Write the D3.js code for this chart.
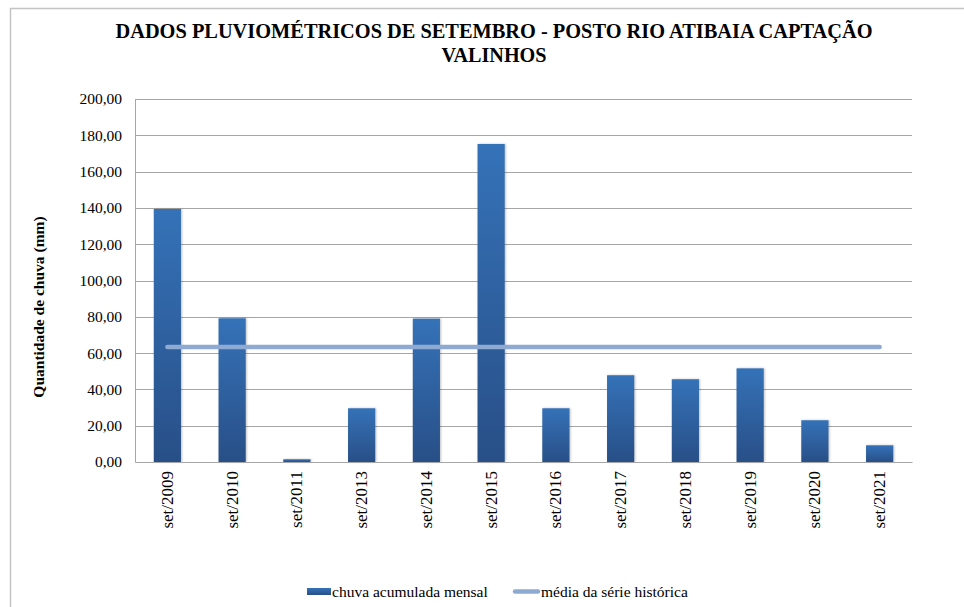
<!DOCTYPE html>
<html>
<head>
<meta charset="utf-8">
<script src="https://cdn.jsdelivr.net/npm/d3@7"></script>
<style>
  body { margin: 0; background: #fff; }
  svg text { font-family: "Liberation Serif", "Tinos", "Times New Roman", Times, serif; }
</style>
</head>
<body>
<script>
// chart data
var categories = ['set/2009','set/2010','set/2011','set/2013','set/2014','set/2015','set/2016','set/2017','set/2018','set/2019','set/2020','set/2021'];
var chuva = [139.4, 79.2, 1.5, 29.6, 79.0, 175.2, 29.6, 47.8, 45.6, 51.6, 23.0, 9.2];
var media = [63.4, 63.4, 63.4, 63.4, 63.4, 63.4, 63.4, 63.4, 63.4, 63.4, 63.4, 63.4];
var y_ticks = [0, 20, 40, 60, 80, 100, 120, 140, 160, 180, 200];
var title_lines = ['DADOS PLUVIOMÉTRICOS DE SETEMBRO - POSTO RIO ATIBAIA CAPTAÇÃO', 'VALINHOS'];
var y_title = 'Quantidade de chuva (mm)';
var legend_names = ['chuva acumulada mensal', 'média da série histórica'];

var width = 964, height = 607;
var left = 135, right = 912, top_y = 99, bottom_y = 462;

var svg = d3.select('body').append('svg').attr('width', width).attr('height', height);

// gradient for the bars
var defs = svg.append('defs');
var grad = defs.append('linearGradient').attr('id', 'bargrad').attr('x1', 0).attr('y1', 0).attr('x2', 0).attr('y2', 1);
grad.append('stop').attr('offset', '0%').attr('stop-color', '#3572b8');
grad.append('stop').attr('offset', '100%').attr('stop-color', '#284f87');

// outer frame
svg.append('path').attr('d', 'M10.5,' + height + ' V8.5 H' + width)
  .attr('fill', 'none').attr('stroke', '#c4c4c4').attr('stroke-width', 1.5);

// title (glyphs in the picture are a bit condensed, so squeeze to the measured width)
var title_widths = [757, 105];
svg.append('g').selectAll('text').data(title_lines).enter().append('text')
  .attr('x', 494).attr('y', (d, i) => 38 + i * 24)
  .attr('text-anchor', 'middle').attr('font-weight', 'bold').attr('font-size', '22px')
  .attr('textLength', (d, i) => title_widths[i]).attr('lengthAdjust', 'spacingAndGlyphs')
  .attr('fill', '#000').text(d => d);

var x_scale = d3.scaleBand().domain(categories).range([left, right]).paddingInner(0.58).paddingOuter(0.29);
var y_scale = d3.scaleLinear().domain([0, 200]).range([bottom_y, top_y]);

// gridlines
svg.append('g').selectAll('line').data(y_ticks.slice(1)).enter().append('line')
  .attr('x1', left).attr('x2', right)
  .attr('y1', d => Math.round(y_scale(d)) + 0.5).attr('y2', d => Math.round(y_scale(d)) + 0.5)
  .attr('stroke', '#a6a6a6').attr('stroke-width', 1);

// y axis
var y_axis = svg.append('g').attr('transform', 'translate(' + left + ',0)')
  .call(d3.axisLeft(y_scale).tickValues(y_ticks).tickSize(0).tickPadding(13)
    .tickFormat(d => d3.format('.2f')(d).replace('.', ',')));
y_axis.attr('font-family', null);
y_axis.select('.domain').attr('stroke', '#a6a6a6');
y_axis.selectAll('text').attr('font-size', '15.5px').attr('fill', '#000');

// y title
svg.append('text').attr('transform', 'translate(44,307) rotate(-90)')
  .attr('text-anchor', 'middle').attr('font-weight', 'bold').attr('font-size', '15.5px')
  .text(y_title);

// bars
svg.append('g').selectAll('rect').data(chuva).enter().append('rect')
  .attr('x', (d, i) => x_scale(categories[i]))
  .attr('y', d => y_scale(d))
  .attr('width', x_scale.bandwidth())
  .attr('height', d => bottom_y - y_scale(d))
  .attr('fill', 'url(#bargrad)')
  .style('filter', 'drop-shadow(1px 0px 1px rgba(0,0,0,0.25))');

// x axis
var x_axis = svg.append('g').attr('transform', 'translate(0,' + bottom_y + ')')
  .call(d3.axisBottom(x_scale).tickSize(0).tickPadding(0));
x_axis.attr('font-family', null);
x_axis.select('.domain').attr('stroke', '#a6a6a6');
x_axis.selectAll('text').attr('font-size', '17px').attr('fill', '#000')
  .attr('transform', 'rotate(-90)').attr('text-anchor', 'end')
  .attr('x', -9).attr('y', 0).attr('dy', '0.32em');

// média line
var line_gen = d3.line().x((d, i) => x_scale(categories[i]) + x_scale.bandwidth() / 2).y(d => y_scale(d));
svg.append('path').datum(media).attr('d', line_gen)
  .attr('fill', 'none').attr('stroke', '#8eaad2').attr('stroke-width', 4.5).attr('stroke-linecap', 'round');

// legend
var leg = svg.append('g');
leg.append('rect').attr('x', 307).attr('y', 588).attr('width', 24).attr('height', 7).attr('fill', 'url(#bargrad)');
leg.append('text').attr('x', 332).attr('y', 597).attr('font-size', '15.5px').text(legend_names[0]);
leg.append('line').attr('x1', 515).attr('x2', 538).attr('y1', 591.5).attr('y2', 591.5)
  .attr('stroke', '#8eaad2').attr('stroke-width', 4.5).attr('stroke-linecap', 'round');
leg.append('text').attr('x', 541).attr('y', 597).attr('font-size', '15.5px').text(legend_names[1]);
</script>
</body>
</html>
